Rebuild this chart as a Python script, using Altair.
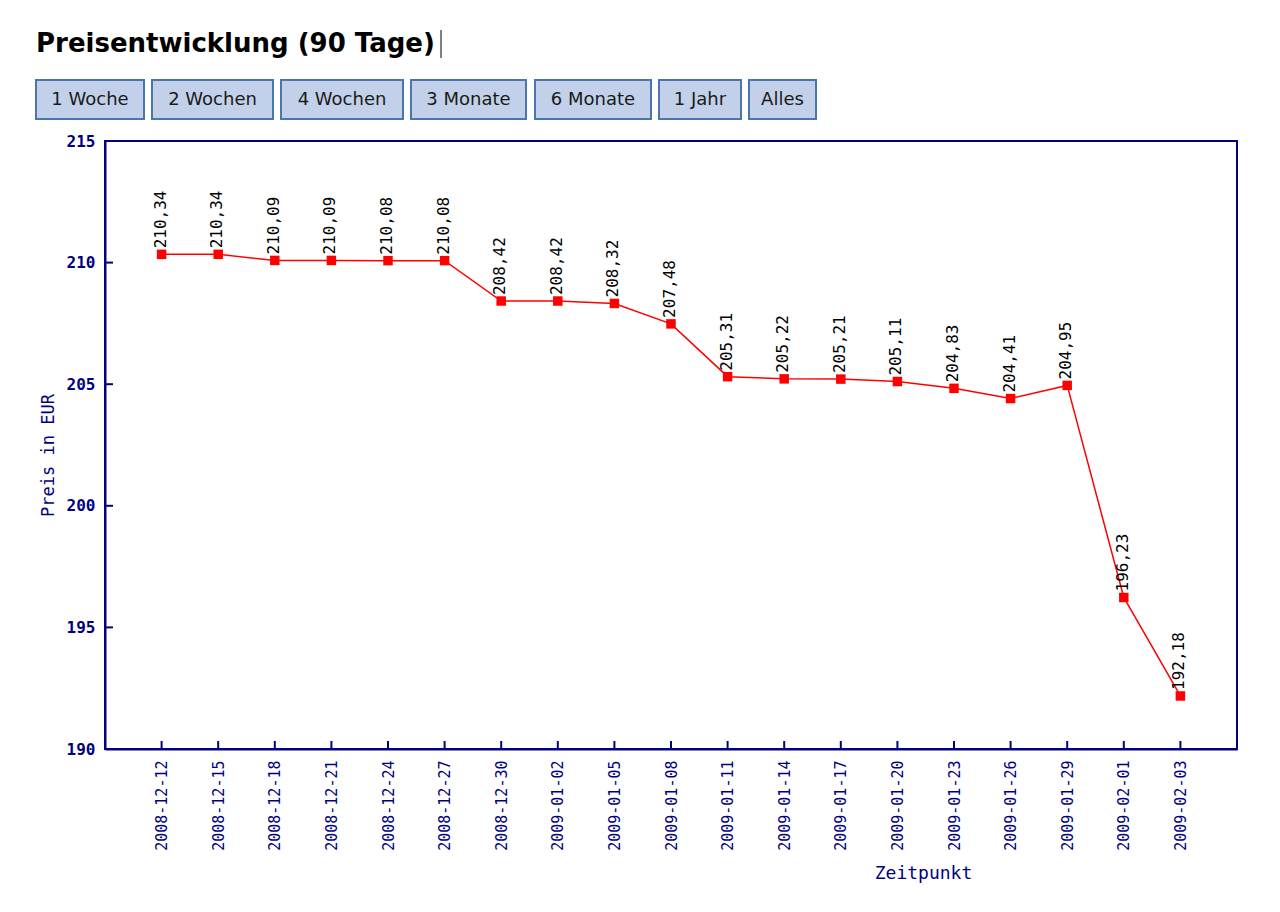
import altair as alt
import pandas as pd

# Price history, 90 days
dates = ["2008-12-12", "2008-12-15", "2008-12-18", "2008-12-21", "2008-12-24",
         "2008-12-27", "2008-12-30", "2009-01-02", "2009-01-05", "2009-01-08",
         "2009-01-11", "2009-01-14", "2009-01-17", "2009-01-20", "2009-01-23",
         "2009-01-26", "2009-01-29", "2009-02-01", "2009-02-03"]
prices = [210.34, 210.34, 210.09, 210.09, 210.08, 210.08, 208.42, 208.42, 208.32,
          207.48, 205.31, 205.22, 205.21, 205.11, 204.83, 204.41, 204.95, 196.23, 192.18]
y_ticks = [190, 195, 200, 205, 210, 215]
buttons = ["1 Woche", "2 Wochen", "4 Wochen", "3 Monate", "6 Monate", "1 Jahr", "Alles"]

NAVY = "#000080"
MONO = "DejaVu Sans Mono"
W, H = 1132, 608
LEFT, TOP = 105, 141

df = pd.DataFrame({"datum": dates, "preis": prices})
tick_df = pd.DataFrame({"wert": y_ticks})

x_enc = alt.X("datum:O", sort=None, scale=alt.Scale(type="point", padding=1),
              axis=alt.Axis(title="Zeitpunkt", labelAngle=270, labelFont=MONO,
                            labelFontSize=15, labelColor=NAVY, labelPadding=11,
                            ticks=False, domainColor=NAVY, domainWidth=2,
                            titleFont=MONO, titleFontSize=18, titleColor=NAVY,
                            titleFontWeight="normal", titleX=818, titleY=124,
                            titleBaseline="middle", titleAlign="center"))
y_scale = alt.Scale(domain=[190, 215], nice=False, zero=False)
y_enc = alt.Y("preis:Q", scale=y_scale,
              axis=alt.Axis(title="Preis in EUR", values=y_ticks, grid=False,
                            ticks=False, labelFont=MONO, labelFontSize=16,
                            labelFontWeight="bold", labelColor=NAVY, labelPadding=10,
                            domainColor=NAVY, domainWidth=2,
                            titleFont=MONO, titleFontSize=17, titleColor=NAVY,
                            titleFontWeight="normal", titleAngle=270,
                            titleX=-57, titleY=H / 2 + 10, titleBaseline="middle",
                            titleAlign="center"))

base = alt.Chart(df)
line = base.mark_line(color="#ff0000", strokeWidth=1.5).encode(x=x_enc, y=y_enc)
points = base.mark_square(color="#ff0000", size=90, opacity=1).encode(x="datum:O", y="preis:Q")
labels = base.mark_text(angle=270, align="left", baseline="middle", dx=6, dy=-1,
                        font=MONO, fontSize=16, color="black").encode(
    x="datum:O", y="preis:Q",
    text=alt.Text("label:N")
).transform_calculate(label="replace(format(datum.preis, '.2f'), '.', ',')")

# inward tick marks on both axes
x_ticks = base.mark_rule(color=NAVY, strokeWidth=2).encode(
    x="datum:O", y=alt.value(H), y2=alt.value(H - 8))
y_tick_marks = alt.Chart(tick_df).mark_rule(color=NAVY, strokeWidth=2).encode(
    y=alt.Y("wert:Q", scale=y_scale), x=alt.value(0), x2=alt.value(8))

one = alt.Data(values=[{}])
head = [alt.Chart(one).mark_text(align="left", baseline="alphabetic", font="DejaVu Sans",
                                 fontSize=26, fontWeight="bold", color="black",
                                 text="Preisentwicklung (90 Tage)").encode(
            x=alt.value(36 - LEFT), y=alt.value(52 - TOP)),
        alt.Chart(one).mark_rule(color="black", strokeWidth=1).encode(
            x=alt.value(441 - LEFT), y=alt.value(30 - TOP), y2=alt.value(58 - TOP))]

# range selector buttons
edges = [(36, 144), (152, 273), (281, 403), (411, 526), (535, 651), (659, 741), (749, 816)]
for name, (l, r) in zip(buttons, edges):
    head.append(alt.Chart(one).mark_rect(fill="#c2d0e9", stroke="#4a76ac", strokeWidth=2).encode(
        x=alt.value(l - LEFT), x2=alt.value(r - LEFT),
        y=alt.value(80 - TOP), y2=alt.value(119 - TOP)))
    head.append(alt.Chart(one).mark_text(align="center", baseline="middle", font="DejaVu Sans",
                                         fontSize=18, color="#1a1a1a", text=name).encode(
        x=alt.value((l + r) / 2 - LEFT), y=alt.value(100 - TOP)))

chart = alt.layer(line, x_ticks, y_tick_marks, points, labels, *head).properties(
    width=W, height=H,
    autosize=alt.AutoSizeParams(type="none"),
    padding={"left": LEFT, "top": TOP, "right": 1280 - LEFT - W, "bottom": 912 - TOP - H},
    background="white",
).configure_view(stroke=NAVY, strokeWidth=2)

chart.save("out.html", embed_options={"renderer": "svg", "actions": False})
